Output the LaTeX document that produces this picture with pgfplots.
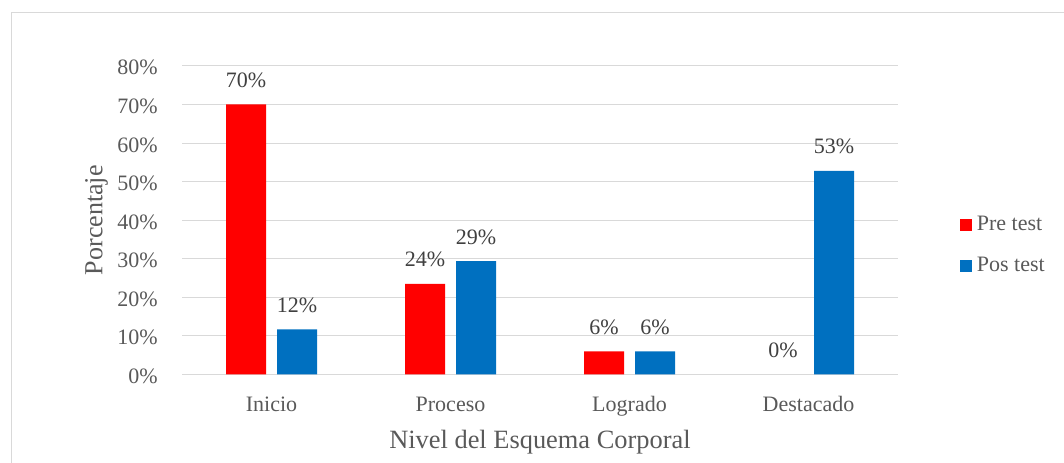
\documentclass[border=0pt]{standalone}
\usepackage{pgfplots}
\pgfplotsset{compat=1.18}
\usepackage{fontspec}
\setmainfont{Liberation Serif}
\definecolor{barred}{HTML}{FF0000}
\definecolor{barblue}{HTML}{0070C0}
\definecolor{txtgray}{HTML}{595959}
\definecolor{lblgray}{HTML}{404040}
\definecolor{gridgray}{HTML}{D9D9D9}
\begin{document}
\begin{tikzpicture}
\useasboundingbox (0pt,0pt) rectangle (798pt,347.25pt);
\draw[gridgray, line width=0.75pt] (8.25pt,-2pt) -- (8.25pt,337.5pt) -- (800pt,337.5pt);
\begin{axis}[
  at={(136.5pt,66.4pt)}, anchor=south west,
  scale only axis, width=537pt, height=231.4pt,
  xmin=-0.5, xmax=3.5, ymin=0, ymax=80,
  enlargelimits=false,
  ybar, bar width=30pt,
  axis line style={draw=none},
  major tick length=0pt,
  ymajorgrids, major grid style={gridgray, line width=0.75pt},
  ytick={0,10,20,30,40,50,60,70,80},
  yticklabels={0\%,10\%,20\%,30\%,40\%,50\%,60\%,70\%,80\%},
  xtick={0,1,2,3},
  xticklabels={Inicio,Proceso,Logrado,Destacado},
  tick label style={font=\fontsize{16.5}{19.8}\selectfont, text=txtgray, inner sep=0pt},
  yticklabel style={anchor=base east, xshift=-18pt, yshift=-6.75pt},
  xticklabel style={anchor=base, yshift=-27.9pt},
  xlabel={Nivel del Esquema Corporal},
  ylabel={Porcentaje},
  xlabel style={font=\fontsize{19.8}{23}\selectfont, text=txtgray, inner sep=0pt, anchor=base, at={(axis description cs:0.5,-0.2392)}},
  ylabel style={font=\fontsize{19.5}{23}\selectfont, text=txtgray, inner sep=0pt, anchor=center, rotate=0, at={(axis description cs:-0.1194,0.5)}},
  nodes near coords,
  point meta=explicit symbolic,
  every node near coord/.append style={font=\fontsize{16.5}{19.8}\selectfont, text=lblgray, inner sep=0pt, anchor=base, yshift=12.75pt},
  legend image code/.code={\fill[#1] (0pt,-4.5pt) rectangle (9pt,4.5pt);},
  legend style={draw=none, fill=none, at={(1.0856,0.52)}, anchor=north west, inner sep=0pt,
    column sep=4pt, row sep=15pt, font=\fontsize{16.5}{19.8}\selectfont, text=txtgray,
    nodes={inner sep=0pt, text height=12pt, text depth=4pt}},
  legend cell align=left,
]
\addplot[fill=barred, draw=none, bar shift=-19.125pt] coordinates {(0,70) [70\%] (1,23.5) [24\%] (2,6) [6\%]};
\addplot[fill=barblue, draw=none, bar shift=19.125pt] coordinates {(0,11.7) [12\%] (1,29.4) [29\%] (2,6) [6\%] (3,52.8) [53\%]};
\addplot[fill=none, draw=none, bar shift=-19.125pt, forget plot] coordinates {(3,0) [0\%]};
\legend{Pre test, Pos test}
\end{axis}
\end{tikzpicture}
\end{document}
